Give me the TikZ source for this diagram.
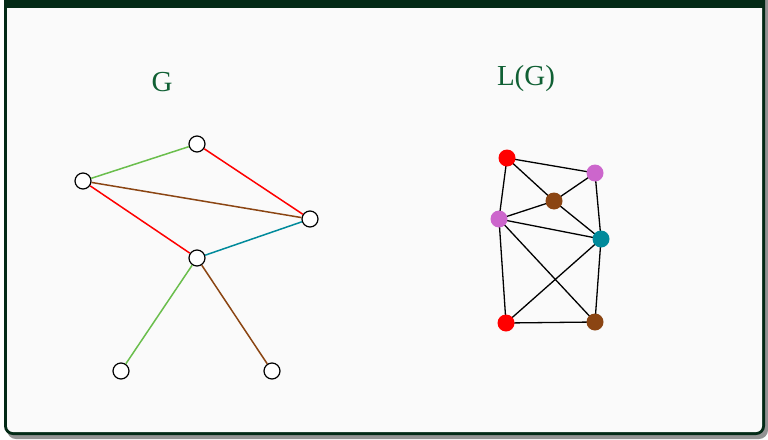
\documentclass[tikz,border=0pt]{standalone}
\usepackage{fontspec}
\setmainfont{Liberation Serif}
\definecolor{framegreen}{RGB}{3,42,22}
\definecolor{titlegreen}{RGB}{16,96,52}
\definecolor{bgfill}{RGB}{250,250,250}
\definecolor{egreen}{RGB}{106,190,76}
\definecolor{ered}{RGB}{255,0,0}
\definecolor{ebrown}{RGB}{139,69,19}
\definecolor{eteal}{RGB}{0,138,155}
\definecolor{eviolet}{RGB}{204,102,204}
\begin{document}
\begin{tikzpicture}[x=1pt,y=-1pt,
  gv/.style={circle,draw=black,fill=white,line width=1.2pt,minimum size=16pt,inner sep=0pt},
  lv/.style={circle,minimum size=17pt,inner sep=0pt},
  ge/.style={line width=1.5pt},
  le/.style={line width=1.3pt,black},
  ttl/.style={text=titlegreen,font=\fontsize{29}{32}\selectfont}]
\useasboundingbox (0,0) rectangle (768,439);
% shadow
\fill[gray!85] (7,-10) [rounded corners=9pt] -- (7,439) -- (768,439) [sharp corners] -- (768,-10) -- cycle;
% frame
\fill[framegreen] (4,-10) [rounded corners=9pt] -- (4,435) -- (765,435) [sharp corners] -- (765,-10) -- cycle;
\fill[bgfill] (7,8) [rounded corners=6pt] -- (7,432) -- (762,432) [sharp corners] -- (762,8) -- cycle;
% titles
\node[ttl] (tg) at (162,82) {G};
\node[ttl] (tl) at (526,79) {L(G)};
% G graph
\node[gv] (a) at (197,144) {};
\node[gv] (b) at (83,181) {};
\node[gv] (c) at (310,219) {};
\node[gv] (d) at (197,258) {};
\node[gv] (e) at (121,371) {};
\node[gv] (f) at (272,371) {};
\draw[ge,egreen] (b) -- (a);
\draw[ge,ered] (a) -- (c);
\draw[ge,ebrown] (b) -- (c);
\draw[ge,ered] (b) -- (d);
\draw[ge,eteal] (d) -- (c);
\draw[ge,egreen] (d) -- (e);
\draw[ge,ebrown] (d) -- (f);
% L(G)
\coordinate (p1) at (507,158);
\coordinate (p2) at (595,173);
\coordinate (p3) at (554,201);
\coordinate (p4) at (499,219);
\coordinate (p5) at (601,239);
\coordinate (p6) at (506,323);
\coordinate (p7) at (595,322);
\draw[le] (p1) -- (p2);
\draw[le] (p1) -- (p3);
\draw[le] (p1) -- (p4);
\draw[le] (p2) -- (p3);
\draw[le] (p2) -- (p5);
\draw[le] (p3) -- (p4);
\draw[le] (p3) -- (p5);
\draw[le] (p4) -- (p5);
\draw[le] (p4) -- (p6);
\draw[le] (p4) -- (p7);
\draw[le] (p5) -- (p6);
\draw[le] (p5) -- (p7);
\draw[le] (p6) -- (p7);
\node[lv,fill=ered] (l1) at (p1) {};
\node[lv,fill=eviolet] (l2) at (p2) {};
\node[lv,fill=ebrown] (l3) at (p3) {};
\node[lv,fill=eviolet] (l4) at (p4) {};
\node[lv,fill=eteal] (l5) at (p5) {};
\node[lv,fill=ered] (l6) at (p6) {};
\node[lv,fill=ebrown] (l7) at (p7) {};
\end{tikzpicture}
\end{document}
